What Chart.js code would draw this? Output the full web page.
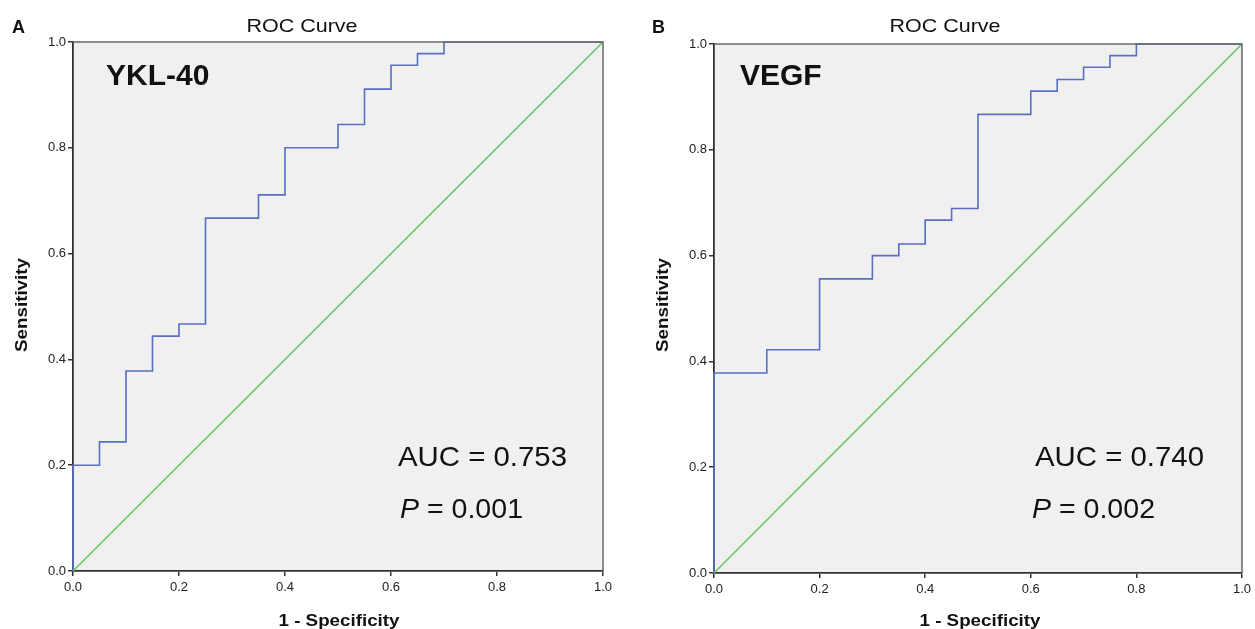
<!DOCTYPE html>
<html>
<head>
<meta charset="utf-8">
<script src="https://cdn.jsdelivr.net/npm/chart.js@4.4.1/dist/chart.umd.min.js"></script>
<style>
    body { margin: 0; background: #fff; width: 1255px; height: 629px; overflow: hidden; position: relative; }
    .panel { position: absolute; top: 0; height: 629px; }
    #panel-a { left: 0; width: 635px; }
    #panel-b { left: 635px; width: 620px; }
</style>
</head>
<body>
<div class="panel" id="panel-a"><canvas id="roc-a"></canvas></div>
<div class="panel" id="panel-b"><canvas id="roc-b"></canvas></div>
<script>
// ROC points (1 - specificity, sensitivity)
const ykl_fpr = [0, 0, 0.05, 0.10, 0.15, 0.20, 0.25, 0.35, 0.40, 0.50, 0.55, 0.60, 0.65, 0.70, 1.0];
const ykl_tpr = [0, 0.200, 0.244, 0.378, 0.444, 0.467, 0.667, 0.711, 0.800, 0.844, 0.911, 0.956, 0.978, 1.0, 1.0];

const vegf_fpr = [0, 0, 0.10, 0.20, 0.30, 0.35, 0.40, 0.45, 0.50, 0.60, 0.65, 0.70, 0.75, 0.80, 1.0];
const vegf_tpr = [0, 0.378, 0.422, 0.556, 0.600, 0.622, 0.667, 0.689, 0.867, 0.911, 0.933, 0.956, 0.978, 1.0, 1.0];

const ref_x = [0, 1];
const ref_y = [0, 1];

const tick_values = [0, 0.2, 0.4, 0.6, 0.8, 1.0];

const FONT = "'Liberation Sans', Arial, sans-serif";

function to_points(xs, ys) {
    return xs.map((x, i) => ({ x: x, y: ys[i] }));
}

// draws text, stretched along its direction so it covers the given width
function draw_text(ctx, parts, x, y, width, align, rotate) {
    ctx.save();
    let total = 0;
    parts.forEach(p => { ctx.font = p.font; total += ctx.measureText(p.text).width; });
    let sx = width ? width / total : 1;
    ctx.translate(x, y);
    if (rotate) ctx.rotate(-Math.PI / 2);
    ctx.scale(sx, 1);
    let pos = align === "center" ? -total / 2 : 0;
    ctx.fillStyle = "#111";
    ctx.textBaseline = "alphabetic";
    ctx.textAlign = "left";
    parts.forEach(p => {
        ctx.font = p.font;
        ctx.fillText(p.text, pos, 0);
        pos += ctx.measureText(p.text).width;
    });
    ctx.restore();
}

function make_panel(canvas_id, cfg) {
    const frame_plugin = {
        id: "frame_" + canvas_id,
        beforeDraw: function(chart) {
            const a = chart.chartArea, ctx = chart.ctx;
            ctx.save();
            ctx.fillStyle = "#f0f0f0";
            ctx.fillRect(a.left, a.top, a.right - a.left, a.bottom - a.top);
            ctx.restore();
        },
        afterDraw: function(chart) {
            const a = chart.chartArea, ctx = chart.ctx;
            ctx.save();
            ctx.strokeStyle = "#6a6a6a";
            ctx.lineWidth = 1.5;
            ctx.beginPath();
            ctx.moveTo(a.left, a.top);
            ctx.lineTo(a.right, a.top);
            ctx.lineTo(a.right, a.bottom);
            ctx.stroke();
            ctx.restore();

            const t = cfg.texts;
            draw_text(ctx, [{ text: t.letter, font: "bold 18px " + FONT }], t.letter_x, 33, 0, "left");
            draw_text(ctx, [{ text: "ROC Curve", font: "19px " + FONT }], t.title_x, 32, 111, "center");
            draw_text(ctx, [{ text: t.name, font: "bold 30px " + FONT }], t.name_x, 85, 0, "left");
            draw_text(ctx, [{ text: t.auc, font: "28px " + FONT }], t.auc_x, 466, 169, "left");
            draw_text(ctx, [{ text: "P", font: "italic 28px " + FONT }, { text: " = " + t.p, font: "28px " + FONT }],
                t.p_x, 518, 123, "left");
            draw_text(ctx, [{ text: "Sensitivity", font: "bold 16px " + FONT }], t.ytitle_x, 305, 94, "center", true);
            draw_text(ctx, [{ text: "1 - Specificity", font: "bold 17px " + FONT }], t.xtitle_x, 626, 121, "center");
        }
    };

    const axis = function() {
        return {
            type: "linear",
            min: 0,
            max: 1,
            afterBuildTicks: function(scale) {
                scale.ticks = tick_values.map(v => ({ value: v }));
            },
            ticks: {
                callback: v => v.toFixed(1),
                color: "#222",
                font: { family: FONT, size: 13 },
                autoSkip: false,
                maxRotation: 0
            },
            grid: {
                display: true,
                drawOnChartArea: false,
                drawTicks: true,
                tickLength: 5,
                color: "#333",
                lineWidth: 1.5
            },
            border: { display: true, color: "#333", width: 1.8 }
        };
    };

    let x_axis = axis();
    x_axis.position = "bottom";
    x_axis.ticks.padding = 4;
    x_axis.afterFit = function(scale) { scale.height = cfg.axis_h; };

    let y_axis = axis();
    y_axis.position = "left";
    y_axis.ticks.padding = 2;
    y_axis.afterFit = function(scale) { scale.width = cfg.axis_w; };

    return new Chart(document.getElementById(canvas_id), {
        type: "scatter",
        data: {
            datasets: [{
                data: to_points(ref_x, ref_y),
                showLine: true,
                borderColor: "rgb(98, 196, 98)",
                borderWidth: 1.5,
                pointRadius: 0,
                clip: 2
            }, {
                data: to_points(cfg.fpr, cfg.tpr),
                showLine: true,
                stepped: "before",
                borderColor: "rgb(90, 110, 194)",
                borderWidth: 1.6,
                pointRadius: 0,
                clip: 2
            }]
        },
        options: {
            responsive: true,
            maintainAspectRatio: false,
            animation: false,
            layout: { padding: cfg.padding },
            plugins: {
                legend: { display: false },
                tooltip: { enabled: false },
                title: { display: false }
            },
            scales: { x: x_axis, y: y_axis }
        },
        plugins: [frame_plugin]
    });
}

make_panel("roc-a", {
    fpr: ykl_fpr,
    tpr: ykl_tpr,
    padding: { left: 0, top: 42, right: 32, bottom: 0 },
    axis_w: 73,
    axis_h: 58,
    texts: {
        letter: "A", letter_x: 12, title_x: 302,
        name: "YKL-40", name_x: 106,
        auc: "AUC = 0.753", auc_x: 398,
        p: "0.001", p_x: 400,
        ytitle_x: 27, xtitle_x: 339
    }
});

make_panel("roc-b", {
    fpr: vegf_fpr,
    tpr: vegf_tpr,
    padding: { left: 0, top: 44, right: 12, bottom: 0 },
    axis_w: 79,
    axis_h: 56,
    texts: {
        letter: "B", letter_x: 17, title_x: 310,
        name: "VEGF", name_x: 105,
        auc: "AUC = 0.740", auc_x: 400,
        p: "0.002", p_x: 397,
        ytitle_x: 33, xtitle_x: 345
    }
});
</script>
</body>
</html>
